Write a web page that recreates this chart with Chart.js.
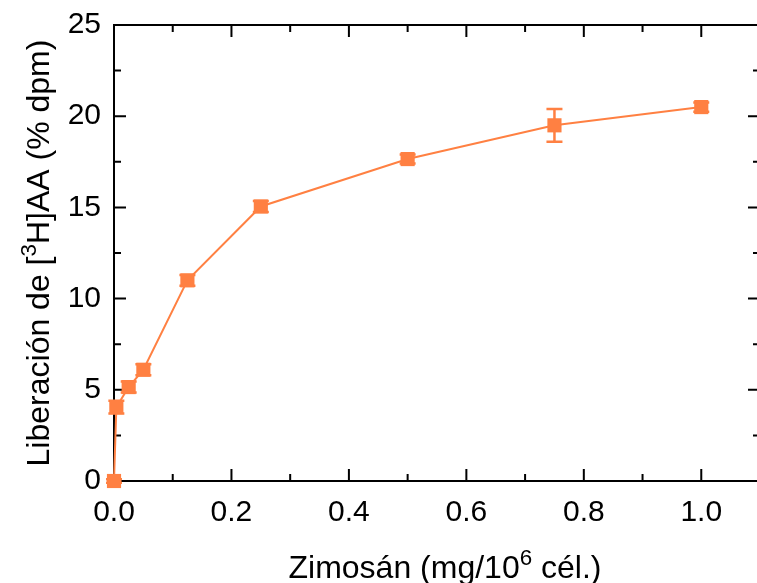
<!DOCTYPE html>
<html>
<head>
<meta charset="utf-8">
<script src="https://cdn.jsdelivr.net/npm/chart.js@4/dist/chart.umd.min.js"></script>
<style>
  html, body { margin: 0; padding: 0; background: #fff; overflow: hidden; }
  #caja { width: 770px; height: 583px; }
</style>
</head>
<body>
<div id="caja"><canvas id="grafico"></canvas></div>
<script>
// datos
const zimosan = [0, 0.004, 0.025, 0.05, 0.125, 0.25, 0.5, 0.75, 1.0];
const liberacion = [0, 4.05, 5.15, 6.1, 11.0, 15.05, 17.65, 19.5, 20.5];
const errores = [0.1, 0.35, 0.3, 0.3, 0.3, 0.3, 0.25, 0.9, 0.25];
const ticksX = [0, 0.2, 0.4, 0.6, 0.8, 1.0];
const ticksY = [0, 5, 10, 15, 20, 25];

const naranja = '#ff8042';
const fuente = '"Liberation Sans", Arial, sans-serif';

const puntos = zimosan.map((v, i) => ({ x: v, y: liberacion[i] }));

// marco con marcas hacia adentro
const marco = {
  id: 'marco',
  beforeDatasetsDraw(chart) {
    const { ctx, chartArea: a, scales: { x, y } } = chart;
    ctx.save();
    ctx.strokeStyle = '#000';
    ctx.lineWidth = 2;
    ctx.strokeRect(a.left, a.top, a.right - a.left, a.bottom - a.top);
    ctx.beginPath();
    for (let i = 0; i * 0.1 <= x.max + 1e-9; i++) {
      const px = x.getPixelForValue(i * 0.1);
      const largo = i % 2 === 0 ? 12 : 7;
      ctx.moveTo(px, a.bottom); ctx.lineTo(px, a.bottom - largo);
      ctx.moveTo(px, a.top); ctx.lineTo(px, a.top + largo);
    }
    for (let i = 0; i * 2.5 <= y.max + 1e-9; i++) {
      const py = y.getPixelForValue(i * 2.5);
      const largo = i % 2 === 0 ? 12 : 7;
      ctx.moveTo(a.left, py); ctx.lineTo(a.left + largo, py);
      ctx.moveTo(a.right, py); ctx.lineTo(a.right - largo, py);
    }
    ctx.stroke();

    // barras de error
    ctx.strokeStyle = naranja;
    ctx.lineWidth = 2.5;
    ctx.beginPath();
    for (let i = 0; i < zimosan.length; i++) {
      const px = x.getPixelForValue(zimosan[i]);
      const arriba = y.getPixelForValue(liberacion[i] + errores[i]);
      const abajo = y.getPixelForValue(liberacion[i] - errores[i]);
      ctx.moveTo(px, arriba); ctx.lineTo(px, abajo);
      ctx.moveTo(px - 8, arriba); ctx.lineTo(px + 8, arriba);
      ctx.moveTo(px - 8, abajo); ctx.lineTo(px + 8, abajo);
    }
    ctx.stroke();
    ctx.restore();
  }
};

// texto con superindice
function textoSup(ctx, partes, cx, cy, tam) {
  const anchos = partes.map(p => {
    ctx.font = (p.sup ? tam * 0.7 : tam) + 'px ' + fuente;
    return ctx.measureText(p.t).width;
  });
  const total = anchos.reduce((s, w) => s + w, 0);
  let xx = cx - total / 2;
  partes.forEach((p, i) => {
    ctx.font = (p.sup ? tam * 0.7 : tam) + 'px ' + fuente;
    ctx.fillText(p.t, xx, p.sup ? cy - tam * 0.42 : cy);
    xx += anchos[i];
  });
}

const titulos = {
  id: 'titulos',
  afterDraw(chart) {
    const { ctx, chartArea: a } = chart;
    ctx.save();
    ctx.fillStyle = '#000';
    ctx.textAlign = 'left';
    ctx.textBaseline = 'alphabetic';
    textoSup(ctx, [
      { t: 'Zimosán (mg/10' }, { t: '6', sup: true }, { t: ' cél.)' }
    ], 445, 578, 32);
    ctx.translate(49, (a.top + a.bottom) / 2);
    ctx.rotate(-Math.PI / 2);
    textoSup(ctx, [
      { t: 'Liberación de [' }, { t: '3', sup: true }, { t: 'H]AA (% dpm)' }
    ], 0, 0, 32);
    ctx.restore();
  }
};

const config = {
  type: 'line',
  data: {
    datasets: [{
      data: puntos,
      borderColor: naranja,
      borderWidth: 2,
      backgroundColor: naranja,
      pointStyle: 'rect',
      pointRadius: 10,
      pointBorderWidth: 0,
      pointBackgroundColor: naranja,
      tension: 0,
      clip: false
    }]
  },
  options: {
    responsive: true,
    maintainAspectRatio: false,
    animation: false,
    layout: { padding: { top: 25, right: 4, left: 0, bottom: 0 } },
    plugins: { legend: { display: false }, tooltip: { enabled: false } },
    scales: {
      x: {
        type: 'linear',
        min: 0,
        max: 1.1,
        afterBuildTicks: s => { s.ticks = ticksX.map(v => ({ value: v })); },
        afterFit: s => { s.height = 102; s.paddingLeft = 0; s.paddingRight = 0; },
        grid: { display: false, drawTicks: false },
        border: { display: false },
        ticks: {
          padding: 14,
          color: '#000',
          font: { family: fuente, size: 30 },
          callback: v => v.toFixed(1),
          maxRotation: 0
        }
      },
      y: {
        min: 0,
        max: 25,
        afterBuildTicks: s => { s.ticks = ticksY.map(v => ({ value: v })); },
        afterFit: s => { s.width = 114; s.paddingTop = 0; s.paddingBottom = 0; },
        grid: { display: false, drawTicks: false },
        border: { display: false },
        ticks: {
          padding: 13,
          color: '#000',
          font: { family: fuente, size: 30 }
        }
      }
    }
  },
  plugins: [marco, titulos]
};

var grafico = new Chart(document.getElementById('grafico'), config);
</script>
</body>
</html>
